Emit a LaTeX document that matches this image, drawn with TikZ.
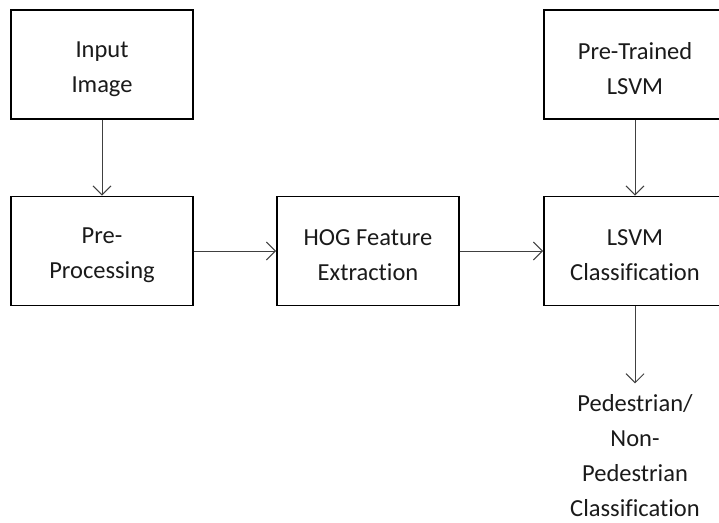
\documentclass[tikz,border=0pt]{standalone}
\usepackage{fontspec}
\setmainfont{Carlito}[Ligatures=NoCommon]
\usetikzlibrary{arrows.meta}
\definecolor{txt}{HTML}{1a1a1a}
\definecolor{arr}{HTML}{404040}
\begin{document}
\begin{tikzpicture}[x=1pt,y=-1pt,
  box/.style={draw=black,line width=1.8pt,minimum width=182pt,minimum height=109pt,inner sep=0pt},
  plain/.style={align=center,inner sep=0pt,font=\fontsize{24.5}{35}\selectfont,text=txt},
  conn/.style={draw=arr,line width=1pt,-{Straight Barb[length=9pt,width=18pt,line width=1pt]}}]
\useasboundingbox (0,0) rectangle (719,522);
\node[box] (inp) at (102,64.5) {};
\node[box] (pre) at (102,251) {};
\node[box] (hog) at (368,251) {};
\node[box] (ptr) at (635,64.5) {};
\node[box] (cls) at (635,251) {};
\node[plain] (inpT) at ([yshift=-4.5pt]inp.center) {Input\\Image};
\node[plain] (preT) at ([yshift=-4.5pt]pre.center) {Pre-\\Processing};
\node[plain] (hogT) at ([yshift=-4.5pt]hog.center) {HOG Feature\\Extraction};
\node[plain] (ptrT) at ([yshift=-4.5pt]ptr.center) {Pre-Trained\\LSVM};
\node[plain] (clsT) at ([yshift=-4.5pt]cls.center) {LSVM\\Classification};
\node[plain,anchor=north] (out) at (635,394) {Pedestrian/\\Non-\\Pedestrian\\Classification};
\draw[conn] (inp) -- (pre);
\draw[conn] (pre) -- (hog);
\draw[conn] (hog) -- (cls);
\draw[conn] (ptr) -- (cls);
\draw[conn] (cls.south) -- ++(0,77) coordinate (oe);
\end{tikzpicture}
\end{document}
